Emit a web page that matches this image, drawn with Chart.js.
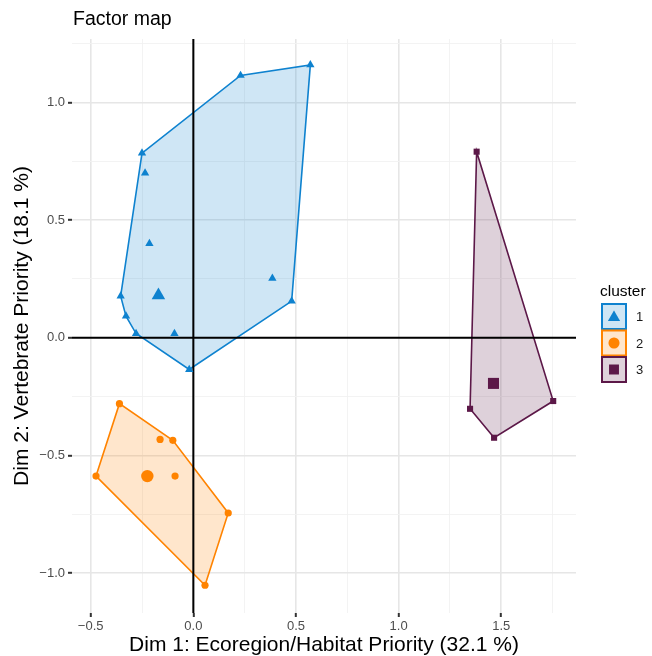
<!DOCTYPE html>
<html lang="en">
<head>
  <meta charset="UTF-8" />
  <title>Factor map</title>
  <script src="https://cdn.jsdelivr.net/npm/chart.js"></script>
  <style>
    html, body { margin: 0; padding: 0; background: #fff; }
    #wrap { width: 652px; height: 656px; }
  </style>
</head>
<body>
  <div id="wrap"><canvas id="factorMap" width="652" height="656"></canvas></div>

  <script>
    // cluster members (Dim 1, Dim 2)
    const cluster1X = [0.57, 0.23, -0.25, -0.235, -0.214, -0.354, -0.328, -0.279, -0.092, 0.385, 0.479, -0.02];
    const cluster1Y = [1.16, 1.115, 0.785, 0.70, 0.40, 0.177, 0.092, 0.018, 0.018, 0.253, 0.156, -0.135];
    const cluster2X = [-0.36, -0.162, -0.10, -0.089, -0.474, 0.17, 0.057];
    const cluster2Y = [-0.28, -0.432, -0.436, -0.588, -0.588, -0.745, -1.052];
    const cluster3X = [1.38, 1.753, 1.348, 1.465];
    const cluster3Y = [0.791, -0.269, -0.302, -0.425];

    // cluster centres
    const centerX = [-0.17, -0.224, 1.462];
    const centerY = [0.18, -0.588, -0.194];

    const clusterNames = ['1', '2', '3'];
    const clusterColors = ['#0E82CF', '#FF8300', '#5C1848'];
    const clusterFills = ['rgba(14,130,207,0.2)', 'rgba(255,131,0,0.2)', 'rgba(92,24,72,0.2)'];
    const clusterShapes = ['triangle', 'circle', 'rect'];
    const pointSizes = [4.8, 3.6, 4.3];
    const centerSizes = [7.8, 6.2, 7.8];

    const xMajor = [-0.5, 0, 0.5, 1, 1.5];
    const xMinor = [-0.25, 0.25, 0.75, 1.25, 1.75];
    const yMajor = [-1, -0.5, 0, 0.5, 1];
    const yMinor = [-0.75, -0.25, 0.25, 0.75, 1.25];
    const xLimits = [-0.591, 1.864];
    const yLimits = [-1.17, 1.27];

    const xTitle = 'Dim 1: Ecoregion/Habitat Priority (32.1 %)';
    const yTitle = 'Dim 2: Vertebrate Priority (18.1 %)';
    const FONT = "'Liberation Sans', Arial, sans-serif";

    const clustersX = [cluster1X, cluster2X, cluster3X];
    const clustersY = [cluster1Y, cluster2Y, cluster3Y];

    function toPoints(xs, ys) {
      return xs.map((x, i) => ({ x: x, y: ys[i] }));
    }

    // convex hull (monotone chain), closed
    function hull(pts) {
      const p = pts.slice().sort((a, b) => a.x - b.x || a.y - b.y);
      const cross = (o, a, b) => (a.x - o.x) * (b.y - o.y) - (a.y - o.y) * (b.x - o.x);
      const lower = [];
      for (const q of p) {
        while (lower.length >= 2 && cross(lower[lower.length - 2], lower[lower.length - 1], q) <= 0) lower.pop();
        lower.push(q);
      }
      const upper = [];
      for (let i = p.length - 1; i >= 0; i--) {
        const q = p[i];
        while (upper.length >= 2 && cross(upper[upper.length - 2], upper[upper.length - 1], q) <= 0) upper.pop();
        upper.push(q);
      }
      upper.pop(); lower.pop();
      const h = lower.concat(upper);
      h.push(h[0]);
      return h;
    }

    const isIn = (arr, v) => arr.some(a => Math.abs(a - v) < 1e-6);
    const fmt = v => (Math.abs(v) < 1e-9 ? 0 : v).toFixed(1).replace('-', '\u2212');

    const datasets = [];
    clustersX.forEach((xs, k) => {
      const pts = toPoints(xs, clustersY[k]);
      datasets.push({
        label: 'hull' + k,
        data: hull(pts),
        showLine: true,
        fill: 'shape',
        backgroundColor: clusterFills[k],
        borderColor: clusterColors[k],
        borderWidth: 1.6,
        pointRadius: 0,
        tension: 0,
        order: 10
      });
    });

    // reference lines through the origin
    datasets.push({
      data: [{ x: 0, y: yLimits[0] }, { x: 0, y: yLimits[1] }],
      showLine: true, borderColor: '#000', borderWidth: 2, pointRadius: 0, order: 5
    });
    datasets.push({
      data: [{ x: xLimits[0], y: 0 }, { x: xLimits[1], y: 0 }],
      showLine: true, borderColor: '#000', borderWidth: 2, pointRadius: 0, order: 5
    });

    clustersX.forEach((xs, k) => {
      datasets.push({
        data: toPoints(xs, clustersY[k]),
        pointStyle: clusterShapes[k],
        pointRadius: pointSizes[k],
        backgroundColor: clusterColors[k],
        borderColor: clusterColors[k],
        borderWidth: 0,
        order: 1
      });
      datasets.push({
        data: [{ x: centerX[k], y: centerY[k] }],
        pointStyle: clusterShapes[k],
        pointRadius: centerSizes[k],
        backgroundColor: clusterColors[k],
        borderColor: clusterColors[k],
        borderWidth: 0,
        order: 1
      });
    });

    function gridOpts(major) {
      return {
        drawTicks: true,
        tickLength: 4,
        color: c => isIn(major, c.tick.value) ? '#e6e6e6' : '#f2f2f2',
        lineWidth: c => isIn(major, c.tick.value) ? 1.6 : 0.9,
        tickColor: c => isIn(major, c.tick.value) ? '#333333' : 'rgba(0,0,0,0)',
        tickWidth: 2
      };
    }

    const overlay = {
      id: 'overlay',
      afterDraw(chart) {
        const ctx = chart.ctx;
        ctx.save();
        ctx.fillStyle = '#000';
        ctx.font = '19.5px ' + FONT;
        ctx.textBaseline = 'middle';
        ctx.textAlign = 'left';
        ctx.fillText('Factor map', 73, 20);

        // legend
        ctx.font = '15.5px ' + FONT;
        ctx.fillText('cluster', 600, 292);
        clusterNames.forEach((name, k) => {
          const bx = 602, by = 304 + k * 26.5, bw = 24, bh = 25;
          ctx.fillStyle = '#fff';
          ctx.fillRect(bx, by, bw, bh);
          ctx.fillStyle = clusterFills[k];
          ctx.fillRect(bx, by, bw, bh);
          ctx.strokeStyle = clusterColors[k];
          ctx.lineWidth = 2;
          ctx.strokeRect(bx, by, bw, bh);
          const cx = bx + bw / 2, cy = by + bh / 2;
          Chart.helpers.drawPoint(ctx, {
            pointStyle: clusterShapes[k],
            radius: [7, 5.5, 7][k],
            borderWidth: 0
          }, cx, cy + (k === 0 ? 1 : 0));
          ctx.fillStyle = clusterColors[k];
          ctx.fill();
          ctx.fillStyle = '#1a1a1a';
          ctx.font = '13px ' + FONT;
          ctx.fillText(name, 636, cy + 1);
          ctx.font = '15.5px ' + FONT;
        });
        ctx.restore();
      }
    };

    new Chart(document.getElementById('factorMap').getContext('2d'), {
      type: 'scatter',
      data: { datasets: datasets },
      options: {
        responsive: false,
        animation: false,
        events: [],
        layout: { padding: { top: 39, right: 76, left: 0, bottom: 0 } },
        plugins: { legend: { display: false }, tooltip: { enabled: false } },
        scales: {
          x: {
            type: 'linear',
            min: xLimits[0],
            max: xLimits[1],
            afterBuildTicks: s => { s.ticks = xMajor.concat(xMinor).sort((a, b) => a - b).map(v => ({ value: v })); },
            afterFit: s => { s.height = 43; },
            border: { display: false },
            grid: gridOpts(xMajor),
            ticks: {
              padding: 2,
              maxRotation: 0,
              autoSkip: false,
              color: '#4d4d4d',
              font: { family: FONT, size: 13 },
              callback: v => isIn(xMajor, v) ? fmt(v) : ''
            },
            title: {
              display: true,
              text: xTitle,
              color: '#000',
              font: { family: FONT, size: 21, lineHeight: 1 },
              padding: { top: 0, bottom: 0 }
            }
          },
          y: {
            type: 'linear',
            min: yLimits[0],
            max: yLimits[1],
            afterBuildTicks: s => { s.ticks = yMajor.concat(yMinor).sort((a, b) => a - b).map(v => ({ value: v })); },
            afterFit: s => { s.width = 72; },
            border: { display: false },
            grid: gridOpts(yMajor),
            ticks: {
              padding: 3,
              autoSkip: false,
              color: '#4d4d4d',
              font: { family: FONT, size: 13 },
              callback: v => isIn(yMajor, v) ? fmt(v) : ''
            },
            title: {
              display: true,
              text: yTitle,
              color: '#000',
              font: { family: FONT, size: 21, lineHeight: 1 },
              padding: { top: 12, bottom: 0 }
            }
          }
        }
      },
      plugins: [overlay]
    });
  </script>
</body>
</html>
